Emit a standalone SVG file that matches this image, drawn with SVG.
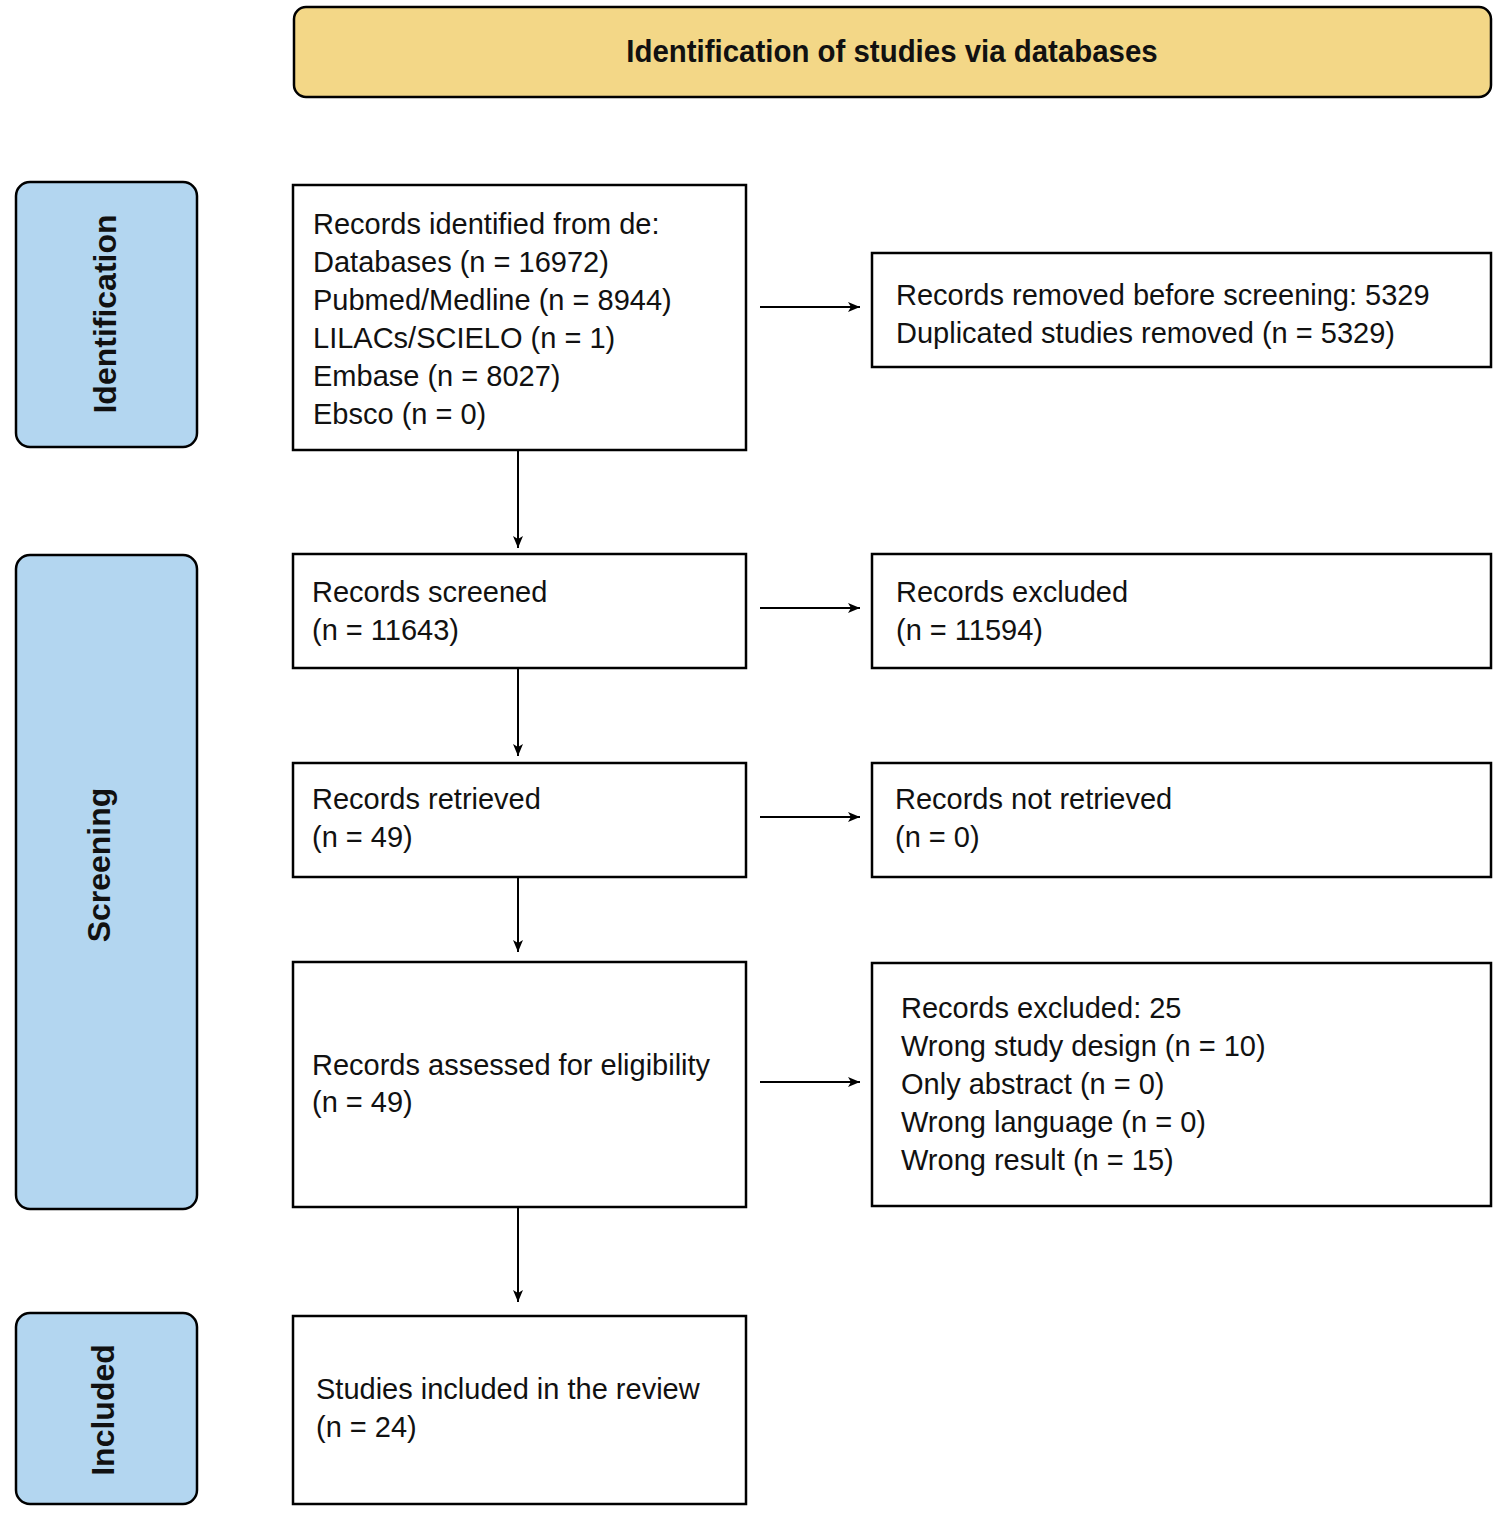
<svg xmlns="http://www.w3.org/2000/svg" width="1512" height="1517" viewBox="0 0 1512 1517">
<defs>
<marker id="ah" markerWidth="12" markerHeight="10" refX="12" refY="5" orient="auto" markerUnits="userSpaceOnUse"><path d="M0,0 L12,5 L0,10 L3,5 Z" fill="#000"/></marker>
<style>
.b{fill:#fff;stroke:#000;stroke-width:2.5}
.s{fill:#b3d6f0;stroke:#000;stroke-width:2.5}
.t{font-family:"Liberation Sans",Arial,sans-serif;font-size:29px;fill:#111}
.l{font-family:"Liberation Sans",Arial,sans-serif;font-size:32px;font-weight:bold;fill:#111}
.c{stroke:#000;stroke-width:2;fill:none;marker-end:url(#ah)}
</style>
</defs>
<rect width="1512" height="1517" fill="#fff"/>
<g id="header"><rect x="294" y="7" width="1197" height="90" rx="12" fill="#f3d787" stroke="#000" stroke-width="2.5"/>
<text x="892" y="62" class="l" text-anchor="middle" transform="translate(892 0) scale(0.92 1) translate(-892 0)">Identification of studies via databases</text></g>
<g id="lab-id"><rect class="s" x="16" y="182" width="181" height="265" rx="14"/><text class="l" transform="translate(116 314) rotate(-90)" text-anchor="middle">Identification</text></g>
<g id="lab-sc"><rect class="s" x="16" y="555" width="181" height="654" rx="14"/><text class="l" transform="translate(110 865) rotate(-90)" text-anchor="middle">Screening</text></g>
<g id="lab-in"><rect class="s" x="16" y="1313" width="181" height="191" rx="14"/><text class="l" transform="translate(114 1410) rotate(-90)" text-anchor="middle">Included</text></g>
<g id="n1"><rect class="b" x="293" y="185" width="453" height="265"/><text class="t"><tspan x="313" y="234">Records identified from de:</tspan><tspan x="313" y="272">Databases (n = 16972)</tspan><tspan x="313" y="310">Pubmed/Medline (n = 8944)</tspan><tspan x="313" y="348">LILACs/SCIELO (n = 1)</tspan><tspan x="313" y="386">Embase (n = 8027)</tspan><tspan x="313" y="424">Ebsco (n = 0)</tspan></text></g>
<g id="n2"><rect class="b" x="293" y="554" width="453" height="114"/><text class="t"><tspan x="312" y="602">Records screened</tspan><tspan x="312" y="640">(n = 11643)</tspan></text></g>
<g id="n3"><rect class="b" x="293" y="763" width="453" height="114"/><text class="t"><tspan x="312" y="809">Records retrieved</tspan><tspan x="312" y="847">(n = 49)</tspan></text></g>
<g id="n4"><rect class="b" x="293" y="962" width="453" height="245"/><text class="t"><tspan x="312" y="1075">Records assessed for eligibility</tspan><tspan x="312" y="1112">(n = 49)</tspan></text></g>
<g id="n5"><rect class="b" x="293" y="1316" width="453" height="188"/><text class="t"><tspan x="316" y="1399">Studies included in the review</tspan><tspan x="316" y="1437">(n = 24)</tspan></text></g>
<g id="r1"><rect class="b" x="872" y="253" width="619" height="114"/><text class="t"><tspan x="896" y="305">Records removed before screening: 5329</tspan><tspan x="896" y="343">Duplicated studies removed (n = 5329)</tspan></text></g>
<g id="r2"><rect class="b" x="872" y="554" width="619" height="114"/><text class="t"><tspan x="896" y="602">Records excluded</tspan><tspan x="896" y="640">(n = 11594)</tspan></text></g>
<g id="r3"><rect class="b" x="872" y="763" width="619" height="114"/><text class="t"><tspan x="895" y="809">Records not retrieved</tspan><tspan x="895" y="847">(n = 0)</tspan></text></g>
<g id="r4"><rect class="b" x="872" y="963" width="619" height="243"/><text class="t"><tspan x="901" y="1018">Records excluded: 25</tspan><tspan x="901" y="1056">Wrong study design (n = 10)</tspan><tspan x="901" y="1094">Only abstract (n = 0)</tspan><tspan x="901" y="1132">Wrong language (n = 0)</tspan><tspan x="901" y="1170">Wrong result (n = 15)</tspan></text></g>
<g id="connectors">
<line class="c" x1="760" y1="307" x2="860" y2="307"/>
<line class="c" x1="760" y1="608" x2="860" y2="608"/>
<line class="c" x1="760" y1="817" x2="860" y2="817"/>
<line class="c" x1="760" y1="1082" x2="860" y2="1082"/>
<line class="c" x1="518" y1="450" x2="518" y2="548"/>
<line class="c" x1="518" y1="668" x2="518" y2="756"/>
<line class="c" x1="518" y1="877" x2="518" y2="952"/>
<line class="c" x1="518" y1="1207" x2="518" y2="1302"/>
</g>
</svg>
